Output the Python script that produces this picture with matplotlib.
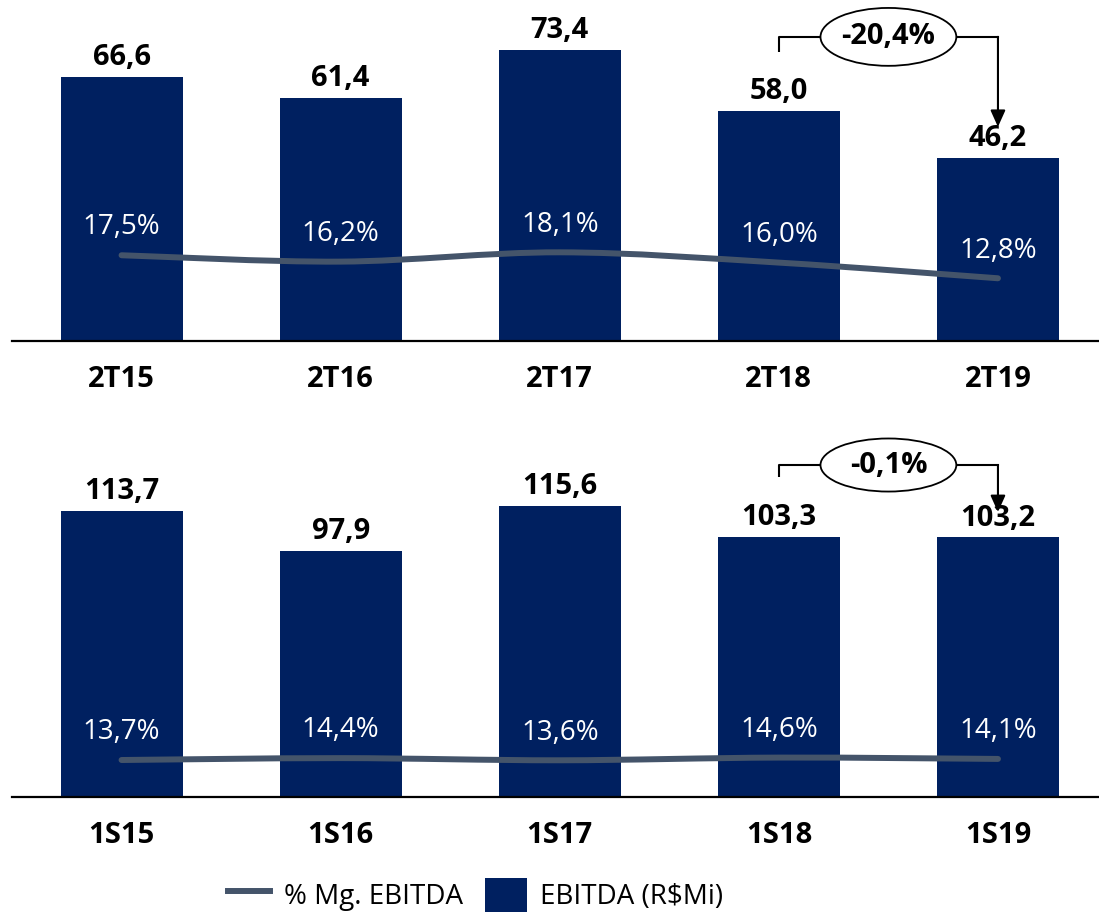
import matplotlib
matplotlib.use("Agg")
import matplotlib.pyplot as plt
from matplotlib.path import Path
from matplotlib.patches import PathPatch, Ellipse, Patch
from matplotlib.lines import Line2D

# ── Data ─────────────────────────────────────────────────────────
quarters = ["2T15", "2T16", "2T17", "2T18", "2T19"]
ebitda_q = [66.6, 61.4, 73.4, 58.0, 46.2]
margin_q = [17.5, 16.2, 18.1, 16.0, 12.8]
change_q = "-20,4%"

semesters = ["1S15", "1S16", "1S17", "1S18", "1S19"]
ebitda_s = [113.7, 97.9, 115.6, 103.3, 103.2]
margin_s = [13.7, 14.4, 13.6, 14.6, 14.1]
change_s = "-0,1%"

# ── Style ────────────────────────────────────────────────────────
BAR_COLOR = "#002060"
LINE_COLOR = "#44546A"
FONT = "Open Sans"
plt.rcParams["font.family"] = [FONT, "DejaVu Sans"]

W, H = 1099, 913
fig = plt.figure(figsize=(W / 100, H / 100), dpi=100)


def fmt(v, pct=False):
    s = f"{v:.1f}".replace(".", ",")
    return s + "%" if pct else s


def smooth_path(xs, ys):
    # Catmull-Rom style bezier through the data points (Excel "smoothed line")
    verts = [(xs[0], ys[0])]
    codes = [Path.MOVETO]
    n = len(xs)
    for i in range(n - 1):
        x0, y0 = (xs[i - 1], ys[i - 1]) if i > 0 else (xs[i], ys[i])
        x1, y1 = xs[i], ys[i]
        x2, y2 = xs[i + 1], ys[i + 1]
        x3, y3 = (xs[i + 2], ys[i + 2]) if i + 2 < n else (x2, y2)
        c1 = (x1 + (x2 - x0) / 6, y1 + (y2 - y0) / 6)
        c2 = (x2 - (x3 - x1) / 6, y2 - (y3 - y1) / 6)
        verts += [c1, c2, (x2, y2)]
        codes += [Path.CURVE4] * 3
    return Path(verts, codes)


def panel(base_px, top_px, cats, vals, margins, ymax, mmax, change,
          tick_lo, br_y, tip_y, ell_h):
    left = 12 / W
    ax = fig.add_axes([left, (H - base_px) / H, 1 - left, (base_px - top_px) / H])
    x = list(range(len(cats)))
    ax.bar(x, vals, width=0.557, color=BAR_COLOR, zorder=2)
    ax.set_xlim(-0.5, (W - 122) / 219)
    ax.set_ylim(0, ymax)
    for xi, v in zip(x, vals):
        ax.annotate(fmt(v), (xi, v), xytext=(0, 14), textcoords="offset points",
                    ha="center", va="center", fontsize=21, fontweight="bold",
                    color="black", annotation_clip=False)
    ax.set_xticks(x)
    ax.set_xticklabels(cats, fontsize=21, fontweight="bold")
    ax.tick_params(axis="x", length=0, pad=17)
    ax.set_yticks([])
    for s in ["top", "left", "right"]:
        ax.spines[s].set_visible(False)
    ax.spines["bottom"].set_linewidth(1.6)
    ax.spines["bottom"].set_zorder(3)

    # margin line on secondary axis
    ax2 = ax.twinx()
    ax2.set_ylim(0, mmax)
    ax2.set_axis_off()
    ax2.add_patch(PathPatch(smooth_path(x, margins), fill=False,
                            edgecolor=LINE_COLOR, lw=4.3, capstyle="round"))
    for xi, m in zip(x, margins):
        ax2.annotate(fmt(m, True), (xi, m), xytext=(0, 20), textcoords="offset points",
                     ha="center", va="center", fontsize=20, color="white")

    # change bracket
    xa, xb = x[3], x[4]
    xm = (xa + xb) / 2
    ew = 0.62
    ax.plot([xa, xa, xm - ew / 2], [tick_lo, br_y, br_y], color="black", lw=1.5,
            clip_on=False, solid_capstyle="butt")
    ax.plot([xm + ew / 2, xb], [br_y, br_y], color="black", lw=1.5, clip_on=False)
    ax.annotate("", xy=(xb, tip_y), xytext=(xb, br_y + 0.01),
                arrowprops=dict(arrowstyle="-|>,head_length=1.0,head_width=0.45",
                                color="black", lw=1.5, shrinkA=0, shrinkB=0),
                annotation_clip=False)
    ax.add_patch(Ellipse((xm, br_y), ew, ell_h, facecolor="white",
                         edgecolor="black", lw=1.3, clip_on=False, zorder=4))
    ax.text(xm, br_y, change, ha="center", va="center", fontsize=21,
            fontweight="bold", zorder=5)
    return ax


panel(341, 0, quarters, ebitda_q, margin_q, 341 / 3.965, 341 / 4.9, change_q,
      tick_lo=72.9, br_y=76.7, tip_y=54.0, ell_h=14.6)
panel(797, 420, semesters, ebitda_s, margin_s, 377 / 2.515, 377 / 2.7, change_s,
      tick_lo=127.2, br_y=132.0, tip_y=113.3, ell_h=21.1)

handles = [Line2D([], [], color=LINE_COLOR, lw=4.3),
           Patch(facecolor=BAR_COLOR)]
fig.legend(handles, ["% Mg. EBITDA", "EBITDA (R$Mi)"], loc="center",
           bbox_to_anchor=(0.433, 0.02), ncol=2, frameon=False, fontsize=20,
           handlelength=1.5, handleheight=1.5, columnspacing=0.8, handletextpad=0.5)

fig.savefig("out.png", dpi=100)
